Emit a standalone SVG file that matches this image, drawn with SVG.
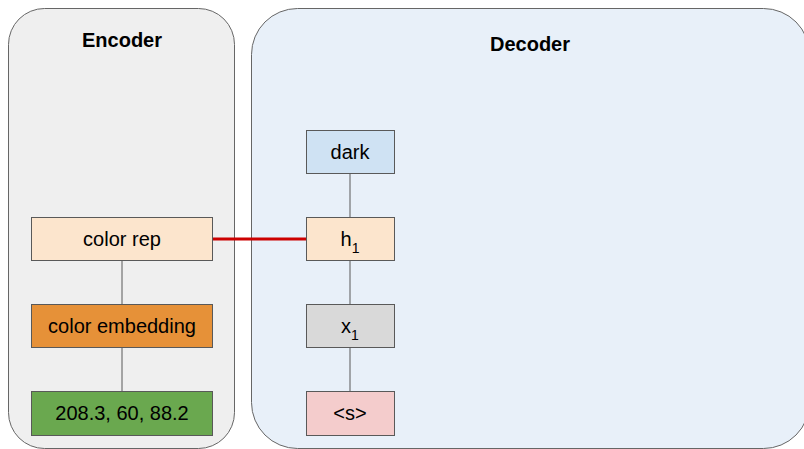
<svg xmlns="http://www.w3.org/2000/svg" width="804" height="449" viewBox="0 0 804 449">
<style>
.panel{stroke:#666666;stroke-width:1}
.node rect{stroke:#595959;stroke-width:1}
.t{font-family:"Liberation Sans",Arial,sans-serif;font-size:20px;fill:#000;text-anchor:middle}
.sub{font-size:14px}
.title{font-family:"Liberation Sans",Arial,sans-serif;font-size:20px;font-weight:bold;fill:#000;text-anchor:middle}
.c{stroke:#595959;stroke-width:1;fill:none}
</style>
<rect width="804" height="449" fill="#ffffff"/>
<g id="encoder">
<rect class="panel" x="8.5" y="8.5" width="226" height="440" rx="36" ry="36" fill="#efefef"/>
<text class="title" x="122" y="47">Encoder</text>
</g>
<g id="decoder">
<rect class="panel" x="251.5" y="8.5" width="558" height="440" rx="46" ry="46" fill="#e8f0f9"/>
<text class="title" x="530" y="51">Decoder</text>
</g>
<g id="connectors">
<line class="c" x1="122" y1="261" x2="122" y2="304"/>
<line class="c" x1="122" y1="348" x2="122" y2="391"/>
<line class="c" x1="350" y1="174" x2="350" y2="217"/>
<line class="c" x1="350" y1="261" x2="350" y2="304"/>
<line class="c" x1="350" y1="348" x2="350" y2="391"/>
<line x1="213" y1="239" x2="306" y2="239" stroke="#cc0000" stroke-width="3"/>
</g>
<g id="color-rep" class="node">
<rect x="31.5" y="217.5" width="181" height="43" fill="#fce5cd"/>
<text class="t" x="122" y="246">color rep</text>
</g>
<g id="color-embedding" class="node">
<rect x="31.5" y="304.5" width="181" height="43" fill="#e69138"/>
<text class="t" x="122" y="333">color embedding</text>
</g>
<g id="color-values" class="node">
<rect x="31.5" y="391.5" width="181" height="44" fill="#6aa84f"/>
<text class="t" x="122" y="420">208.3, 60, 88.2</text>
</g>
<g id="dark" class="node">
<rect x="306.5" y="130.5" width="88" height="43" fill="#cfe2f3"/>
<text class="t" x="350" y="159">dark</text>
</g>
<g id="h1" class="node">
<rect x="306.5" y="217.5" width="88" height="43" fill="#fce5cd"/>
<text class="t" x="350" y="246">h<tspan class="sub" dy="7">1</tspan></text>
</g>
<g id="x1" class="node">
<rect x="306.5" y="304.5" width="88" height="43" fill="#d9d9d9"/>
<text class="t" x="350" y="333">x<tspan class="sub" dy="7">1</tspan></text>
</g>
<g id="start" class="node">
<rect x="306.5" y="391.5" width="88" height="44" fill="#f4cccc"/>
<text class="t" x="350" y="420">&lt;s&gt;</text>
</g>
</svg>
